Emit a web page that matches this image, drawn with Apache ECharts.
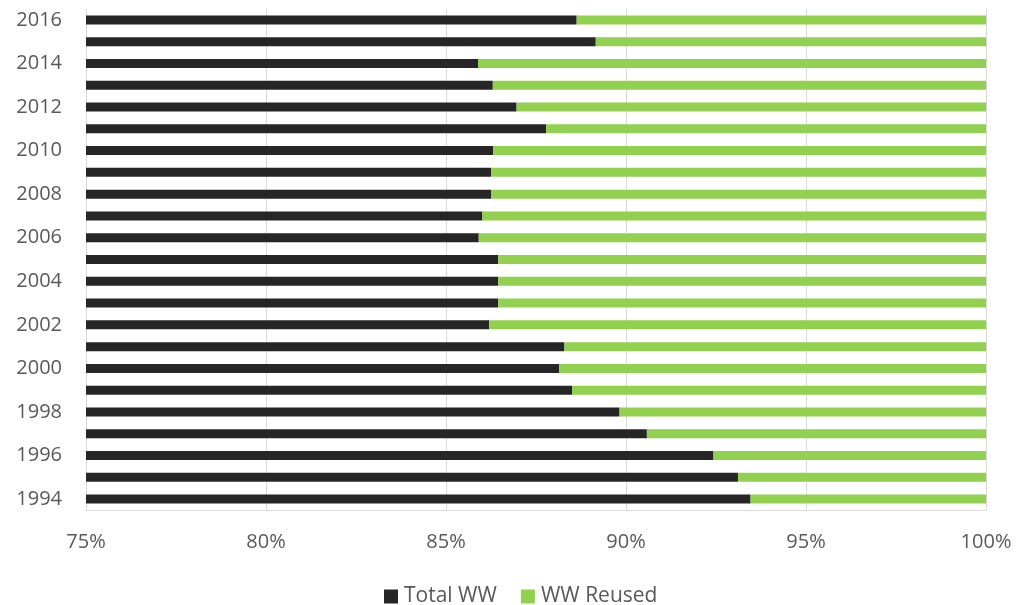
<!DOCTYPE html>
<html>
<head>
<meta charset="utf-8">
<script src="https://cdn.jsdelivr.net/npm/echarts@6/dist/echarts.min.js"></script>
<style>
html,body{margin:0;padding:0;background:#fff;}
#chart{width:1018px;height:605px;}
</style>
</head>
<body>
<div id="chart"></div>
<script>
const years = ['1994','1995','1996','1997','1998','1999','2000','2001','2002','2003','2004','2005','2006','2007','2008','2009','2010','2011','2012','2013','2014','2015','2016'];
const totalWW = [93.46,93.11,92.43,90.58,89.82,88.50,88.14,88.29,86.20,86.45,86.45,86.45,85.91,86.01,86.25,86.25,86.31,87.78,86.96,86.30,85.89,89.16,88.63];
const wwReused = [6.54,6.89,7.57,9.42,10.18,11.50,11.86,11.71,13.80,13.55,13.55,13.55,14.09,13.99,13.75,13.75,13.69,12.22,13.04,13.70,14.11,10.84,11.37];
const xTicks = {min:75, max:100, interval:5};

const chart = echarts.init(document.getElementById('chart'));
const font = '"Open Sans", "Noto Sans", sans-serif';
chart.setOption({
  animation:false,
  textStyle:{fontFamily:font},
  grid:{left:86, right:32, top:9, bottom:95, containLabel:false},
  legend:{
    data:['Total WW','WW Reused'],
    top:581, left:379,
    icon:'rect', itemWidth:14, itemHeight:14, itemGap:24,
    textStyle:{fontSize:21, color:'#595959', fontFamily:font, padding:[0,0,0,1]}
  },
  xAxis:{
    type:'value', min:xTicks.min, max:xTicks.max, interval:xTicks.interval,
    axisLine:{show:true, lineStyle:{color:'#d9d9d9', width:1}},
    axisTick:{show:false},
    splitLine:{show:true, lineStyle:{color:'#d9d9d9', width:1}},
    axisLabel:{formatter:'{value}%', fontSize:20, color:'#595959', margin:22, fontFamily:font}
  },
  yAxis:{
    type:'category', data:years,
    axisLine:{show:true, lineStyle:{color:'#d9d9d9', width:1}},
    axisTick:{show:false},
    axisLabel:{interval:1, fontSize:20, color:'#595959', margin:24, fontFamily:font}
  },
  series:[
    {name:'Total WW', type:'bar', stack:'s', data:totalWW, barWidth:9, clip:true,
     itemStyle:{color:'#262626'}},
    {name:'WW Reused', type:'bar', stack:'s', data:wwReused, barWidth:9, clip:true,
     itemStyle:{color:'#92d050'}}
  ]
});
</script>
</body>
</html>
